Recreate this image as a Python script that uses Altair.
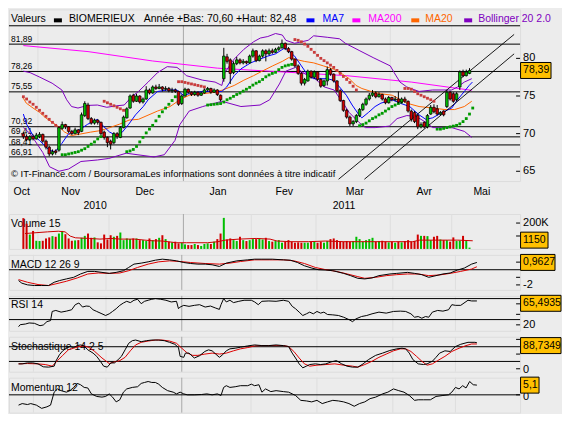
import altair as alt
import pandas as pd

# ---------------------------------------------------------------- style / layout
W = 512
H_MAIN = 172
H_GAP = 21
H_SUB = 35
BG = "#ececec"
FONT = "Liberation Sans"
XDOM = [-2.9, 152.1]
GREEN = "#00bf00"
RED = "#d00000"
SAR_RED = "#c83c3c"
SAR_GREEN = "#009a00"
C_MA7 = "#0000ff"
C_MA20 = "#ff6600"
C_MA200 = "#ff00ff"
C_BOLL = "#8000c0"
GRID = "#dedede"
GRID_DARK = "#a8a8a8"
BOXC = "#ffc000"

# ---------------------------------------------------------------- data
month_bounds = [4.5, 26.5, 49.5, 70.5, 90.5, 113.5, 132.5]
bound_is_year = [False, False, True, False, False, False, False]
month_names = ["Oct", "Nov", "Dec", "Jan", "Fev", "Mar", "Avr", "Mai"]
month_mid = [0.95, 15.8, 38.3, 60.5, 80.6, 102.0, 123.0, 140.5]
year_names = ["2010", "2011"]
year_mid = [23.2, 98.7]

level_values = [81.89, 78.26, 75.55, 70.92, 69.57, 68.5, 66.91]
level_labels = ["81,89", "78,26", "75,55", "70,92", "69,41", "68,41", "66,91"]
level_label_dy = [-5.5, -5.5, -5.5, -5.5, -5.5, -3, -4.5]
header_line = 84.33

price_ticks = [65, 70, 75, 80]
price_tick_labels = ["65", "70", "75", "80"]

opens = [70.0, 69.6, 69.2, 69.6, 69.3, 69.6, 69.9, 69.0, 68.2, 67.3,
         67.7, 67.8, 70.7, 71.2, 70.9, 70.3, 70.0, 70.5, 70.3, 72.4,
         73.8, 72.0, 71.4, 71.8, 71.5, 70.2, 69.5, 69.0, 68.8, 70.0,
         69.5, 70.8, 72.1, 73.4, 75.1, 74.3, 75.0, 74.2, 74.6, 75.8,
         75.4, 76.2, 76.0, 76.2, 75.9, 76.0, 75.7, 75.8, 75.6, 74.0,
         75.0, 75.9, 75.5, 75.2, 75.5, 75.1, 75.4, 75.8, 76.0, 75.5,
         75.8, 75.1, 77.3, 80.2, 79.8, 78.1, 79.3, 79.8, 79.4, 79.6,
         79.4, 80.3, 81.0, 79.7, 80.3, 81.0, 80.6, 81.0, 80.8, 81.2,
         81.4, 82.0, 81.3, 80.9, 79.9, 79.0, 78.0, 76.7, 77.0, 78.3,
         77.5, 78.2, 77.2, 76.4, 77.0, 78.5, 77.9, 77.0, 75.7, 74.4,
         73.1, 72.2, 71.3, 71.6, 72.4, 73.2, 73.9, 74.6, 75.1, 75.4,
         74.9, 75.2, 74.6, 74.1, 74.8, 74.5, 74.6, 74.2, 74.6, 74.3,
         73.0, 72.8, 72.4, 70.9, 71.5, 70.9, 72.6, 73.5, 73.3, 72.6,
         73.0, 73.6, 75.5, 75.3, 74.5, 76.2, 78.2, 77.7, 78.0]
highs = [70.2, 69.9, 69.8, 69.9, 70.1, 70.2, 70.0, 69.2, 68.4, 67.9,
         67.9, 71.0, 71.6, 71.3, 71.0, 70.5, 70.8, 70.6, 72.8, 74.3,
         74.1, 72.2, 72.0, 71.9, 71.6, 70.4, 69.6, 69.2, 70.2, 70.2,
         71.0, 72.4, 73.5, 75.2, 75.3, 75.3, 75.1, 74.8, 76.3, 76.0,
         76.4, 76.5, 76.6, 76.3, 76.3, 76.2, 76.1, 76.0, 75.7, 75.2,
         76.1, 76.0, 75.6, 75.7, 75.6, 75.6, 76.0, 76.2, 76.1, 76.0,
         75.9, 75.2, 81.4, 80.6, 80.0, 79.6, 80.2, 80.0, 79.9, 79.7,
         80.5, 81.3, 81.1, 80.5, 81.2, 81.2, 81.3, 81.3, 81.4, 81.6,
         82.5, 82.1, 81.5, 81.0, 80.0, 79.2, 78.2, 77.4, 78.5, 78.4,
         78.4, 78.3, 77.4, 77.2, 78.9, 78.7, 78.0, 77.1, 75.9, 74.5,
         73.3, 72.4, 71.8, 72.6, 73.4, 74.1, 74.8, 75.4, 75.8, 75.6,
         75.5, 75.3, 74.8, 75.0, 74.9, 75.0, 75.6, 74.8, 74.9, 74.4,
         73.2, 73.0, 72.6, 71.5, 71.6, 72.6, 73.8, 73.9, 73.8, 73.0,
         73.1, 75.8, 75.7, 75.5, 75.5, 78.4, 78.5, 78.5, 78.7]
lows = [69.3, 69.0, 69.0, 69.1, 69.2, 69.4, 68.8, 67.9, 67.0, 67.1,
        67.2, 67.6, 70.5, 70.6, 70.1, 69.8, 69.9, 69.8, 70.2, 72.2,
        71.8, 71.2, 71.2, 71.2, 69.8, 69.2, 68.2, 67.9, 68.6, 69.3,
        69.4, 70.7, 72.0, 73.3, 74.1, 74.2, 74.0, 74.0, 74.5, 75.2,
        75.3, 75.8, 75.9, 75.6, 75.7, 75.5, 75.4, 75.4, 73.7, 73.8,
        74.9, 75.3, 75.0, 75.0, 74.9, 75.0, 75.3, 75.6, 75.3, 75.4,
        75.0, 74.3, 76.9, 79.3, 76.6, 77.9, 79.1, 79.2, 79.2, 79.2,
        79.3, 80.1, 79.5, 79.6, 80.1, 79.6, 80.4, 80.6, 80.7, 81.0,
        81.3, 81.1, 80.7, 79.7, 78.8, 77.8, 76.4, 76.4, 76.9, 77.3,
        77.3, 77.0, 76.1, 76.2, 76.4, 77.7, 76.8, 75.5, 74.2, 72.9,
        72.0, 71.0, 71.0, 71.4, 72.2, 73.0, 73.7, 74.4, 74.9, 74.7,
        74.8, 74.4, 73.9, 74.0, 74.3, 74.3, 74.0, 74.0, 74.1, 72.8,
        71.6, 71.4, 70.6, 70.7, 70.7, 70.7, 72.5, 72.7, 72.4, 72.4,
        72.3, 73.4, 74.4, 74.1, 74.3, 75.8, 77.5, 77.6, 77.9]
closes = [69.6, 69.2, 69.6, 69.3, 69.8, 69.9, 69.0, 68.2, 67.3, 67.6,
          67.5, 70.8, 71.2, 70.9, 70.3, 70.0, 70.5, 70.1, 72.5, 74.0,
          72.0, 71.4, 71.8, 71.5, 70.0, 69.5, 68.8, 68.6, 70.0, 69.6,
          70.8, 72.2, 73.3, 75.0, 74.3, 75.0, 74.2, 74.6, 75.8, 75.4,
          76.2, 76.0, 76.2, 75.9, 76.0, 75.7, 75.8, 75.6, 73.9, 75.0,
          75.9, 75.5, 75.2, 75.5, 75.1, 75.4, 75.8, 76.0, 75.5, 75.8,
          75.2, 74.5, 80.3, 79.6, 78.0, 79.3, 79.8, 79.4, 79.6, 79.4,
          80.3, 81.0, 79.7, 80.3, 81.0, 80.6, 81.0, 80.8, 81.2, 81.4,
          82.0, 81.3, 80.9, 79.9, 79.0, 78.0, 76.7, 77.2, 78.3, 77.5,
          78.2, 77.2, 76.3, 77.0, 78.5, 77.9, 77.0, 75.7, 74.4, 73.1,
          72.2, 71.3, 71.6, 72.4, 73.2, 73.9, 74.6, 75.1, 75.4, 74.9,
          75.2, 74.6, 74.1, 74.8, 74.5, 74.6, 74.2, 74.6, 74.3, 73.0,
          71.9, 71.6, 70.9, 71.2, 70.9, 72.4, 73.5, 72.9, 72.6, 72.8,
          72.5, 75.5, 74.6, 74.3, 75.3, 78.2, 77.7, 78.2, 78.39]
volumes_k = [238, 195, 111, 139, 63, 61, 63, 81, 89, 99,
             94, 119, 139, 114, 81, 63, 66, 68, 86, 101,
             119, 86, 89, 51, 43, 111, 73, 106, 94, 101,
             127, 68, 81, 76, 81, 81, 68, 68, 61, 81,
             68, 76, 86, 106, 76, 56, 51, 56, 43, 48,
             35, 30, 30, 38, 30, 23, 38, 43, 38, 56,
             76, 119, 240, 73, 81, 68, 61, 94, 68, 61,
             68, 76, 76, 81, 73, 86, 61, 56, 61, 68,
             48, 56, 68, 56, 48, 51, 48, 48, 48, 56,
             56, 48, 56, 48, 61, 76, 81, 68, 61, 56,
             61, 56, 61, 94, 76, 56, 68, 76, 86, 56,
             61, 63, 56, 51, 56, 48, 56, 51, 61, 68,
             56, 61, 111, 101, 101, 99, 68, 94, 101, 73,
             68, 68, 56, 89, 61, 63, 101, 61, 10]

ma7_i = [0, 1, 3, 5, 8, 9.8, 11.9, 14, 17, 19.9, 22.9, 24.7, 26.7, 28.8, 30.6, 32.6, 34.7, 37.1, 38.6, 41.5,
         44.5, 47.5, 49.5, 51.3, 55.5, 59.3, 61.4, 62.9, 65.2, 67.3, 70.3, 73.2, 75.6, 78, 80.9, 83.9, 86, 88.1,
         89.8, 91.9, 94, 95.8, 97.8, 99.9, 101.7, 103.8, 104.7, 106.7, 108.8, 110.6, 114.1, 116.5, 119.5, 122.4,
         124.5, 126.6, 129.5, 132.5, 134.3, 136.4, 137.9, 138.9]
ma7_v = [72.6, 71.25, 69.75, 69.1, 67.8, 67.6, 68.7, 70.0, 70.4, 71.25, 71.9, 71.0, 70.2, 69.75, 70.2, 71.25, 72.5,
         73.6, 74.5, 75.6, 75.8, 75.8, 75.1, 75.3, 75.6, 75.6, 75.6, 76.2, 77.7, 78.6, 79.4, 79.9, 80.3, 80.6, 81.4,
         80.3, 79.0, 77.7, 77.3, 77.3, 77.3, 77.1, 76.2, 75.1, 73.8, 72.5, 72.1, 72.8, 73.6, 74.05, 74.5, 74.05,
         73.6, 72.5, 71.9, 72.1, 72.8, 73.4, 74.5, 75.6, 76.4, 76.85]
ma20_i = [0, 0.9, 3.0, 5.1, 6.9, 8.9, 11.0, 12.8, 14.9, 17.8, 20.8, 23.8, 26.7, 29.7, 32.7, 35.6, 41.5, 45.4, 48.4,
          51.3, 55.5, 59.3, 61.7, 65.2, 68.2, 71.2, 74.1, 77.1, 80.1, 82.1, 83.9, 86.9, 89.8, 92.8, 95.8, 98.7,
          100.8, 102.9, 104.7, 107.6, 110.6, 114.1, 118.6, 122.4, 126.6, 130.4, 133.4, 136.4, 138.7]
ma20_v = [74.7, 74.05, 73.4, 72.8, 72.1, 71.5, 70.9, 70.2, 69.75, 69.96, 70.2, 70.4, 70.8, 71.25, 71.8, 71.9, 73.0,
          73.6, 74.5, 75.1, 75.3, 75.5, 75.8, 76.4, 77.1, 77.7, 78.35, 79.0, 79.6, 80.1, 79.9, 79.6, 79.4, 79.0,
          78.6, 77.9, 77.3, 76.4, 76.0, 75.6, 75.3, 75.1, 74.05, 73.6, 73.4, 73.2, 73.2, 73.6, 74.3]
ma200_i = [0, 20, 40, 60, 80, 100, 120, 138.7]
ma200_v = [81.7, 80.9, 79.65, 78.7, 78.2, 77.7, 76.85, 75.75]
boll_up_i = [0, 2.1, 5.1, 8.9, 11.9, 13.4, 14.9, 16.9, 19.9, 22.9, 25.8, 28.8, 31.2, 33.5, 35.6, 38.6, 41.5, 44.5,
             47.5, 48.9, 50.4, 55.5, 59.3, 61.4, 62.3, 65.2, 68.2, 71.2, 73.3, 75.6, 78, 80.1, 81.2, 83.9, 88.1,
             89.8, 94, 97.8, 99.6, 104.1, 108.2, 110.6, 113.5, 114.7, 116.5, 118.6, 122.4, 126.6, 132.5, 134.3,
             136.4, 138.7]
boll_up_v = [78.3, 78.1, 77.5, 76.7, 75.8, 74.5, 73.6, 73.4, 73.75, 73.8, 73.5, 73.7, 73.8, 74.9, 75.6, 76.85, 78.1,
             78.9, 78.8, 78.35, 77.7, 77.1, 76.85, 76.4, 78.1, 79.9, 81.2, 82.2, 82.7, 82.9, 83.3, 83.1, 82.4, 82.0,
             82.4, 83.0, 82.8, 82.6, 82.0, 81.0, 80.1, 79.6, 79.0, 78.1, 76.85, 76.2, 75.6, 75.8, 75.8, 76.2, 76.85,
             77.3]
boll_lo_i = [0, 2.1, 6, 8.1, 11, 14, 17.8, 22.9, 26.4, 31.8, 40.4, 43.6, 46.9, 48.4, 51.3, 55.5, 61.4, 67.3, 73.2,
             76.2, 79.2, 81.2, 84.2, 87.2, 90.2, 93.1, 96.1, 99, 100.8, 103.8, 105.8, 108.8, 113.2, 115.6, 118.6,
             121.5, 124.5, 126.6, 132.5, 136.4, 138.7]
boll_lo_v = [70.8, 70.0, 67.5, 65.6, 65.0, 65.3, 66.3, 66.5, 66.7, 67.4, 66.9, 67.2, 69.1, 71.2, 73.0, 73.6, 74.3,
             73.6, 73.8, 74.5, 76.6, 78.3, 78.8, 77.9, 77.3, 76.2, 75.8, 74.0, 72.8, 71.5, 70.8, 70.8, 71.0, 72.0,
             72.4, 72.3, 71.5, 70.8, 70.8, 70.3, 69.5]
sar_values = [74.9, 74.6, 74.2, 73.9, 73.5, 73.1, 72.7, 72.3, 71.9, 71.5, 71.1, 70.8,
              67.2, 67.2, 67.3, 67.4, 67.5, 67.6, 67.8, 68.0, 68.3, 68.6, 68.9, 69.3, 69.6,
              74.3, 74.1, 73.9, 73.7, 73.5, 73.3, 73.1,
              67.6, 67.7, 67.9, 68.3, 68.9, 69.5, 70.1, 70.6, 71.1, 71.7, 72.3, 72.9, 73.4, 73.9, 74.4, 74.9,
              76.9, 76.9, 76.8, 76.7, 76.6, 76.5, 76.4, 76.3, 76.2,
              73.8, 73.85, 73.9, 73.95, 74.0, 74.2, 74.5, 74.7, 74.95, 75.2, 75.4, 75.65, 75.9, 76.15, 76.45,
              76.7, 76.9, 77.2, 77.55, 77.8, 78.0, 78.15, 78.5, 78.8, 79.0, 79.1, 79.2,
              82.5, 82.4, 82.2, 81.9, 81.6, 81.2, 80.8, 80.4, 80.0, 79.7, 79.4, 79.1, 78.8, 78.4, 78.0, 77.6,
              77.2, 76.8, 76.3, 75.8,
              71.05, 71.2, 71.4, 71.7, 72.0, 72.2, 72.5, 72.7, 73.0, 73.3, 73.6, 73.8, 74.0, 74.2,
              76.0, 76.0, 75.9, 75.6, 75.3, 75.1, 74.9, 74.7, 74.5, 74.3,
              70.6, 70.6, 70.7, 70.8, 70.9, 71.0, 71.1, 71.3, 71.6, 72.0, 72.6, 73.4]
sar_runs = [("d", 12), ("u", 13), ("d", 7), ("u", 16), ("d", 9), ("u", 27), ("d", 20), ("u", 14), ("d", 10), ("u", 12)]
trend_i = [97.5, 151.8, 105.5, 151.8]
trend_v = [63.94, 83.18, 63.94, 80.6]
trend_k = ["a", "a", "b", "b"]

vol_ma_i = [0.5, 3.2, 7.5, 10.8, 12.9, 14.5, 16.1, 20.4, 23.7, 26.9, 30.1, 34.4, 37.6, 39.8, 43, 47.3, 50.5, 57,
            60.2, 62.4, 66.7, 72, 76.3, 78.5, 82.8, 88.2, 93.5, 98.9, 104.3, 109.7, 115, 120.4, 122.6, 125.8,
            131.2, 134.4, 139]
vol_ma_k = [119, 124, 132, 137, 132, 99, 86, 81, 76, 81, 76, 76, 68, 63, 61, 48, 48, 48, 56, 68, 76, 81, 76, 61,
            56, 56, 61, 56, 56, 56, 56, 56, 68, 68, 68, 68, 63]

macd_i = [0, 1, 2.7, 4.8, 7, 9.1, 10.8, 12.4, 14.5, 16.7, 18.8, 21, 23.1, 25.3, 27.5, 29.6, 31.8, 33.4, 35, 37.2,
          39.3, 41.5, 43.6, 45.8, 47.9, 50.1, 52.2, 54.4, 56.6, 58.7, 60.9, 63, 66.2, 69.5, 71.6, 73.8, 77, 80.3,
          82.4, 84.6, 86.7, 88.9, 91, 93.2, 95.3, 98.6, 100.7, 102.9, 105, 107.2, 109.3, 112.6, 114.7, 118, 120.1,
          122.3, 124.4, 126.6, 128.7, 130.9, 133.1, 135.2, 137.4, 139]
macd_v = [-1.43, -1.77, -1.99, -2.08, -2.08, -2.08, -1.65, -1.43, -1.21, -1.0, -0.56, -0.22, -0.22, -0.35, -0.48,
          -0.35, -0.13, 0.30, 0.74, 0.87, 1.04, 1.26, 1.39, 1.30, 1.17, 0.95, 0.82, 0.74, 0.74, 0.65, 0.43, 0.87,
          1.17, 1.30, 1.39, 1.39, 1.39, 1.30, 1.26, 0.95, 0.52, 0.22, 0.0, -0.04, -0.13, -0.48, -0.78, -1.13, -1.21,
          -1.08, -0.78, -0.56, -0.48, -0.35, -0.48, -0.65, -1.0, -0.78, -0.56, -0.43, -0.04, 0.22, 0.74, 0.96]
signal_i = [0, 2.7, 5.9, 9.1, 11.3, 14.5, 17.8, 21, 24.2, 27.5, 30.7, 33.4, 36.1, 39.3, 42.5, 45.8, 49, 52.2, 56.6,
            60.9, 64.1, 67.3, 71.6, 76, 80.3, 83.5, 86.7, 90, 93.2, 96.4, 99.7, 102.9, 105, 108.3, 111.5, 114.7, 118,
            121.2, 124.4, 127.6, 130.9, 134.1, 137.4, 139]
signal_v = [-1.3, -1.65, -1.95, -2.08, -1.86, -1.52, -1.08, -0.56, -0.43, -0.48, -0.43, -0.13, 0.30, 0.74, 1.04,
            1.17, 1.08, 0.95, 0.82, 0.74, 0.87, 1.08, 1.30, 1.30, 1.30, 1.17, 0.82, 0.30, 0.0, -0.22, -0.56, -0.91,
            -1.13, -1.0, -0.78, -0.65, -0.56, -0.56, -0.78, -0.69, -0.48, -0.22, 0.09, 0.39]

rsi_i = [0, 0.5, 2.1, 3.2, 4.8, 6.5, 7.5, 8.6, 9.7, 10.2, 11.3, 12.9, 14.5, 16.1, 17.2, 18.3, 19.4, 20.5, 21.5, 22.6,
         23.7, 25.3, 26.4, 27.5, 28.5, 29.6, 30.7, 31.8, 32.8, 33.9, 35, 36.1, 37.2, 38.2, 39.3, 40.4, 41.5, 43.1,
         44.7, 46.3, 47.9, 48.5, 49, 50.1, 51.7, 53.3, 54.9, 56.6, 58.2, 59.8, 60.9, 61.4, 62.2, 63, 64.1, 65.2,
         66.8, 68.4, 70.6, 71.6, 72.7, 73.8, 75.9, 78.1, 80.3, 81.9, 83, 84, 85.1, 86.2, 87.3, 88.3, 89.4, 90.5,
         91.6, 92.6, 93.7, 95.3, 97, 98.6, 100.2, 101.3, 102.3, 104, 105.6, 107.2, 109.3, 111.5, 113.7, 115.8,
         117.4, 119, 120.1, 121.2, 122.3, 123.4, 124.4, 125.5, 127.1, 128.7, 130.4, 131.4, 132.5, 134.1, 136.3,
         137.4, 139]
rsi_v = [16.5, 20.3, 21.6, 23.6, 22.9, 18.4, 19.7, 26.1, 28.1, 45.5, 47.4, 44.2, 46.1, 48.7, 58.4, 61.6, 53.9, 55.8,
         55.2, 48.7, 45.5, 41.0, 37.8, 41.0, 45.5, 50.7, 57.1, 61.6, 64.8, 62.3, 66.8, 68.7, 60.3, 64.8, 66.8, 68.7,
         70.0, 68.7, 66.8, 63.6, 64.8, 50.7, 53.9, 57.1, 55.2, 57.1, 58.4, 53.9, 55.8, 51.9, 49.4, 58.4, 70.0, 63.6,
         66.8, 62.3, 64.8, 66.8, 66.8, 63.6, 58.4, 64.8, 65.5, 64.8, 66.8, 64.8, 55.2, 50.7, 44.2, 37.8, 41.0, 44.2,
         41.0, 45.5, 42.3, 44.2, 39.7, 39.0, 37.8, 34.5, 30.0, 26.1, 31.3, 35.8, 37.8, 41.0, 44.2, 42.3, 45.5, 46.1,
         45.5, 41.0, 34.5, 35.8, 32.6, 35.8, 34.5, 44.2, 47.4, 46.1, 48.7, 58.4, 57.1, 57.1, 66.8, 65.5, 65.5]

stk_i = [0, 1.1, 2.7, 4.3, 5.9, 7.5, 9.1, 10.8, 11.3, 12.4, 13.4, 14.5, 15.6, 16.7, 17.8, 18.8, 19.9, 21, 22.6, 23.7,
         24.8, 25.8, 26.9, 28, 29.1, 30.2, 31.2, 32.3, 33.4, 34.5, 35.5, 37.2, 38.8, 40.4, 42.5, 44.2, 45.8, 47.4,
         48.5, 49, 50.1, 50.6, 51.7, 53.3, 54.9, 56.5, 57.6, 58.7, 59.8, 60.9, 61.9, 63, 64.1, 65.7, 67.3, 69.5,
         71.6, 73.8, 75.9, 78.1, 80.3, 81.9, 83, 84, 85.1, 86.2, 87.3, 88.3, 90, 91.6, 93.2, 94.8, 96.4, 98, 99.6,
         101.3, 102.9, 104.5, 106.1, 108.3, 110.4, 112.6, 114.7, 116.3, 117.4, 118.5, 119.6, 121.2, 122.8, 123.9,
         125.5, 126.6, 127.7, 129.3, 130.9, 132.5, 134.1, 136.3, 138.4, 139]
stk_v = [16.7, 16.7, 20, 20, 16.7, 6.7, 5.6, 8.9, 25.6, 47.8, 61.1, 70, 75.6, 72.2, 78.9, 81.1, 77.8, 64.4, 53.3, 42.2,
         25.6, 8.9, 5.6, 20, 20, 31.1, 42.2, 64.4, 86.7, 95.6, 97.8, 92.2, 95.6, 97.8, 97.8, 95.6, 90, 83.3, 72.2,
         42.2, 38.9, 53.3, 53.3, 36.7, 44.4, 58.9, 64.4, 61.1, 50, 38.9, 47.8, 61.1, 67.8, 70, 73.3, 77.8, 81.1,
         78.9, 78.9, 81.1, 78.9, 75.6, 53.3, 36.7, 16.7, 3.3, 8.9, 14.4, 16.7, 14.4, 16.7, 23.3, 27.8, 16.7, 8.9,
         5.6, 5.6, 16.7, 31.1, 45.6, 53.3, 62.2, 67.8, 70, 67.8, 53.3, 31.1, 16.7, 14.4, 16.7, 25.6, 38.9, 53.3,
         61.1, 58.9, 75.6, 83.3, 90, 90, 88.7]
std_i = [0, 2.7, 5.9, 8.1, 10.2, 11.8, 13.4, 15.1, 16.7, 18.3, 19.9, 21.5, 23.1, 25.3, 27.5, 29.1, 30.7, 32.3, 33.9,
         35.5, 37.2, 39.3, 41.5, 43.6, 45.8, 47.9, 49.5, 51.2, 52.8, 54.4, 56.5, 58.7, 60.9, 63, 65.2, 67.3, 69.5,
         71.6, 73.8, 78.1, 80.3, 81.9, 83.5, 85.1, 86.7, 88.3, 90.5, 93.2, 95.9, 98.6, 101.3, 102.9, 105, 107.2,
         109.3, 111.5, 113.7, 115.8, 117.4, 119, 120.7, 122.3, 123.9, 125.5, 127.1, 129.3, 131.4, 133.6, 135.7,
         137.4, 139]
std_v = [16.7, 17.8, 16.7, 14.4, 8.9, 27.8, 45.6, 64.4, 70, 75.6, 77.8, 72.2, 58.9, 36.7, 17.8, 23.3, 27.8, 38.9,
         61.1, 81.1, 90, 94.4, 97.8, 97.8, 94.4, 86.7, 70, 53.3, 45.6, 45.6, 50, 53.3, 50, 53.3, 61.1, 67.8, 72.2,
         77.8, 78.9, 78.9, 78.9, 75.6, 58.9, 36.7, 16.7, 8.9, 12.2, 14.4, 16.7, 12.2, 8.9, 5.6, 14.4, 25.6, 38.9,
         50, 61.1, 67.8, 67.8, 58.9, 42.2, 25.6, 12.2, 16.7, 27.8, 42.2, 58.9, 70, 78.9, 84.4, 84.4]

mom_i = [0, 1.1, 2.7, 3.7, 5.4, 7, 8.6, 9.7, 10.8, 11.8, 12.9, 14.5, 15.6, 16.7, 17.8, 18.8, 19.9, 21, 22.1, 23.7,
         25.3, 26.4, 27.5, 28.5, 29.6, 30.7, 31.8, 32.8, 34.5, 36.1, 37.2, 38.2, 39.3, 40.4, 41.5, 42.5, 43.6, 45.2,
         46.9, 47.9, 49, 50.1, 51.2, 53.3, 55.5, 57.1, 58.7, 60.3, 61.4, 62.2, 63, 64.1, 65.7, 67.3, 69.5, 70.6,
         71.6, 72.9, 73.8, 74.9, 76.5, 78.1, 80.3, 81.9, 83, 84, 85.6, 87.3, 88.9, 90.5, 92.1, 93.7, 95.3, 97, 98.6,
         100.2, 101.8, 103.4, 105, 106.6, 108.3, 110.4, 112, 113.7, 115.3, 116.9, 118.5, 120.1, 121.2, 122.8, 124.9,
         126.6, 128.7, 130.4, 131.4, 132.5, 133.6, 134.7, 135.7, 136.8, 137.9, 139]
mom_v = [-5.4, -4.6, -5.1, -4.6, -5.4, -7.1, -6.3, -5.4, 1.4, 3.1, 2.2, 1.4, 2.2, 3.9, 6.0, 5.3, 3.9, 3.6, 0.5,
         -0.85, -1.2, -0.85, 0.5, -1.2, -3.7, -2.6, 1.4, 3.1, 3.9, 4.25, 6.0, 6.5, 7.0, 6.5, 6.5, 5.6, 3.9, 2.2, 1.4,
         0.5, 1.4, 0.5, 0, 0, 0.17, 0.5, 0, 0.5, -0.34, 3.9, 4.8, 3.9, 4.25, 4.8, 4.8, 5.6, 4.8, 5.3, 1.4, 3.1, 1.7,
         2.2, 1.7, 1.4, 0.5, -0.34, -2.9, -3.2, -3.7, -2.9, -4.6, -3.7, -2.9, -3.2, -3.7, -4.6, -6.0, -4.6, -3.7,
         -2.0, -1.2, 0.5, 1.4, 3.1, 2.2, 1.4, -0.34, -2.9, -2.6, -2.6, -2.6, -0.85, -0.34, 0, 1.4, 3.9, 3.1, 4.8,
         3.6, 7.0, 5.3, 5.1]

# ---------------------------------------------------------------- frames
N = len(closes)
cdf = pd.DataFrame({"i": list(range(N)), "o": opens, "h": highs, "l": lows, "c": closes,
                    "vol": [v * 1000 for v in volumes_k]})
cdf["col"] = [GREEN if c >= o else RED for o, c in zip(opens, closes)]

sar_side = []
for side, n in sar_runs:
    sar_side += [side] * n
sdf = pd.DataFrame({"i": list(range(len(sar_values))), "v": sar_values,
                    "col": [SAR_GREEN if s == "u" else SAR_RED for s in sar_side]})

DOM_MAIN = [63.7, 86.51]
DOM_VOL = [0, 270000]
DOM_MACD = [-2.65, 1.95]
DOM_RSI = [8.7, 75.2]
DOM_STO = [-10, 108.9]
DOM_MOM = [-9.35, 9.0]


def XQ(field, axis=None):
    return alt.X(f"{field}:Q", scale=alt.Scale(domain=XDOM, nice=False, zero=False), axis=axis)


def YQ(field, dom, axis=None):
    return alt.Y(f"{field}:Q", scale=alt.Scale(domain=dom, nice=False, zero=False), axis=axis)


Y_AX = alt.Axis(orient="right", labels=False, ticks=False, domain=True, domainColor="black", domainWidth=1,
                grid=False, title=None)
X_SUB = alt.Axis(labels=False, ticks=False, domain=True, domainColor="black", domainWidth=1, grid=False,
                 title=None)
X_MAIN = alt.Axis(values=month_bounds, labels=False, ticks=True, tickSize=3, tickColor="black", domain=True,
                  domainColor="black", domainWidth=1, grid=False, title=None)


def one(s):
    return pd.DataFrame({"t": [s]})


def txt(s, x, y, color="black", size=10.5, align="left"):
    return alt.Chart(one(s)).mark_text(align=align, baseline="middle", font=FONT, fontSize=size,
                                       color=color).encode(x=alt.value(x), y=alt.value(y), text="t:N")


def swatch(x, color):
    return alt.Chart(one("s")).mark_rect(color=color).encode(
        x=alt.value(x), x2=alt.value(x + 8), y=alt.value(9), y2=alt.value(13))


def line(xs, vs, dom, color, width=1.0):
    df = pd.DataFrame({"i": xs, "v": vs})
    return alt.Chart(df).mark_line(color=color, strokeWidth=width, clip=True).encode(
        x=XQ("i"), y=YQ("v", dom))


def hlines(vals, dom, axis=None):
    return alt.Chart(pd.DataFrame({"v": vals})).mark_rule(color="black", strokeWidth=1).encode(
        y=YQ("v", dom, axis))


def inticks(vals, dom):
    return alt.Chart(pd.DataFrame({"v": vals})).mark_rule(color="black", strokeWidth=1).encode(
        x=alt.value(W - 4), x2=alt.value(W), y=YQ("v", dom))


def rlabels(vals, labels, dom, dy=0):
    df = pd.DataFrame({"v": vals, "t": labels})
    return alt.Chart(df).mark_text(align="left", baseline="middle", font=FONT, fontSize=11, dy=dy).encode(
        x=alt.value(W + 3), y=YQ("v", dom), text="t:N")


def box(val, label, dom, width):
    df = pd.DataFrame({"v": [val], "t": [label]})
    r = alt.Chart(df).mark_rect(fill=BOXC, stroke="black", strokeWidth=1, yOffset=-8, y2Offset=8).encode(
        x=alt.value(W + 0.5), x2=alt.value(W + width), y=YQ("v", dom), y2="v:Q")
    t = alt.Chart(df).mark_text(align="left", baseline="middle", font=FONT, fontSize=10.5, dx=2).encode(
        x=alt.value(W + 1), y=YQ("v", dom), text="t:N")
    return [r, t]


gdf = pd.DataFrame({"b": month_bounds,
                    "col": [GRID_DARK if y else GRID for y in bound_is_year],
                    "y0": [DOM_MAIN[0]] * len(month_bounds), "y1": [header_line] * len(month_bounds)})


def vgrid():
    return alt.Chart(gdf).mark_rule(strokeWidth=1).encode(
        x=XQ("b", X_SUB), color=alt.Color("col:N", scale=None))


# ---------------------------------------------------------------- main panel
main_grid = alt.Chart(gdf).mark_rule(strokeWidth=1).encode(
    x=XQ("b", X_MAIN), y=YQ("y0", DOM_MAIN, Y_AX), y2="y1:Q",
    color=alt.Color("col:N", scale=None))
ldf = pd.DataFrame({"v": level_values, "t": level_labels})
lvl = alt.Chart(ldf).mark_rule(color="black", strokeWidth=1).encode(y=YQ("v", DOM_MAIN))
lvl_txt = [
    alt.Chart(pd.DataFrame({"v": [v], "t": [t]})).mark_text(
        align="left", baseline="middle", font=FONT, fontSize=8.5, dy=d).encode(
        x=alt.value(2), y=YQ("v", DOM_MAIN), text="t:N")
    for v, t, d in zip(level_values, level_labels, level_label_dy)
]
hdr_rule = hlines([header_line], DOM_MAIN)
tdf = pd.DataFrame({"i": trend_i, "v": trend_v, "k": trend_k})
trend = alt.Chart(tdf).mark_line(color="black", strokeWidth=0.9, clip=True).encode(
    x=XQ("i"), y=YQ("v", DOM_MAIN), detail="k:N")
sar = alt.Chart(sdf).mark_square(size=8, opacity=1).encode(
    x=XQ("i"), y=YQ("v", DOM_MAIN), color=alt.Color("col:N", scale=None))
wick = alt.Chart(cdf).mark_rule(color="black", strokeWidth=1).encode(
    x=XQ("i"), y=YQ("l", DOM_MAIN), y2="h:Q")
body = alt.Chart(cdf).mark_bar(size=2.6, stroke="black", strokeWidth=0.7).encode(
    x=XQ("i"), y=YQ("o", DOM_MAIN), y2="c:Q", color=alt.Color("col:N", scale=None))

header = [
    txt("Valeurs", 2, 10),
    swatch(45, "black"), txt("BIOMERIEUX", 60, 10),
    txt("Année +Bas: 70,60 +Haut: 82,48", 135, 10),
    swatch(298, C_MA7), txt("MA7", 314, 10, C_MA7),
    swatch(344, C_MA200), txt("MA200", 360, 10, C_MA200),
    swatch(403, C_MA20), txt("MA20", 417, 10, C_MA20),
    swatch(456, C_BOLL), txt("Bollinger 20 2.0", 470, 10, C_BOLL),
]

main = alt.layer(
    main_grid, lvl, hdr_rule, *lvl_txt,
    txt("\u00a9 IT-Finance.com / BoursoramaLes informations sont données à titre indicatif", 2, 165, size=9.5),
    line(ma200_i, ma200_v, DOM_MAIN, C_MA200),
    line(boll_up_i, boll_up_v, DOM_MAIN, C_BOLL),
    line(boll_lo_i, boll_lo_v, DOM_MAIN, C_BOLL),
    line(ma20_i, ma20_v, DOM_MAIN, C_MA20),
    line(ma7_i, ma7_v, DOM_MAIN, C_MA7),
    trend, sar, wick, body,
    inticks(price_ticks, DOM_MAIN),
    rlabels(price_ticks, price_tick_labels, DOM_MAIN),
    *box(78.39, "78,39", DOM_MAIN, 31),
    *header,
).properties(width=W, height=H_MAIN)

# ---------------------------------------------------------------- month labels strip
mdf = pd.DataFrame({"i": month_mid, "t": month_names})
ydf = pd.DataFrame({"i": year_mid, "t": year_names})
months = alt.Chart(mdf).mark_text(font=FONT, fontSize=10.5, baseline="middle").encode(
    x=XQ("i"), y=alt.value(5), text="t:N")
yrs = alt.Chart(ydf).mark_text(font=FONT, fontSize=10.5, baseline="middle").encode(
    x=XQ("i"), y=alt.value(19), text="t:N")
strip = alt.layer(months, yrs, view=alt.ViewBackground(fill="transparent", strokeWidth=0)).properties(
    width=W, height=H_GAP)

# ---------------------------------------------------------------- volume
vol_bars = alt.Chart(cdf).mark_bar(size=2).encode(
    x=XQ("i"), y=YQ("vol", DOM_VOL, Y_AX), color=alt.Color("col:N", scale=None))
vma = line(vol_ma_i, [v * 1000 for v in vol_ma_k], DOM_VOL, "#cc0000")
vol = alt.layer(vgrid(), txt("Volume 15", 2, 10), vol_bars, vma,
                inticks([100000, 200000], DOM_VOL), rlabels([200000], ["200K"], DOM_VOL),
                *box(68000, "1150", DOM_VOL, 28)
                ).properties(width=W, height=H_SUB)

# ---------------------------------------------------------------- MACD
macd = alt.layer(vgrid(), hlines([0], DOM_MACD, Y_AX), txt("MACD 12 26 9", 2, 10),
                 line(signal_i, signal_v, DOM_MACD, "#dd0000"),
                 line(macd_i, macd_v, DOM_MACD, "black"),
                 inticks([1, -1, -2], DOM_MACD), rlabels([-2], ["-2"], DOM_MACD),
                 *box(0.9627, "0,9627", DOM_MACD, 35)
                 ).properties(width=W, height=H_SUB)

# ---------------------------------------------------------------- RSI
rsi = alt.layer(vgrid(), hlines([70, 30], DOM_RSI, Y_AX), txt("RSI 14", 2, 9),
                line(rsi_i, rsi_v, DOM_RSI, "black"),
                inticks([60, 40, 20], DOM_RSI), rlabels([20], ["20"], DOM_RSI),
                *box(61, "65,4935", DOM_RSI, 41)
                ).properties(width=W, height=H_SUB)

# ---------------------------------------------------------------- Stochastic
sto = alt.layer(vgrid(), hlines([75, 25], DOM_STO, Y_AX), txt("Stochastique 14 2 5", 2, 10),
                line(std_i, std_v, DOM_STO, "#dd0000"),
                line(stk_i, stk_v, DOM_STO, "black"),
                inticks([100, 50, 0], DOM_STO), rlabels([0], ["0"], DOM_STO, dy=1),
                *box(78.9, "88,7349", DOM_STO, 41)
                ).properties(width=W, height=H_SUB)

# ---------------------------------------------------------------- Momentum
mom = alt.layer(vgrid(), hlines([0], DOM_MOM, Y_AX), txt("Momentum 12", 2, 10),
                line(mom_i, mom_v, DOM_MOM, "black"),
                inticks([0], DOM_MOM), rlabels([0], ["0"], DOM_MOM, dy=2),
                *box(5.1, "5,1", DOM_MOM, 19)
                ).properties(width=W, height=H_SUB)

chart = alt.vconcat(main, strip, vol, macd, rsi, sto, mom, spacing=6, bounds="flush").properties(
    padding=0, background=BG
).configure_view(strokeWidth=0, fill="white").configure(font=FONT)

chart.save("out.html", embed_options={"renderer": "svg", "actions": False})
